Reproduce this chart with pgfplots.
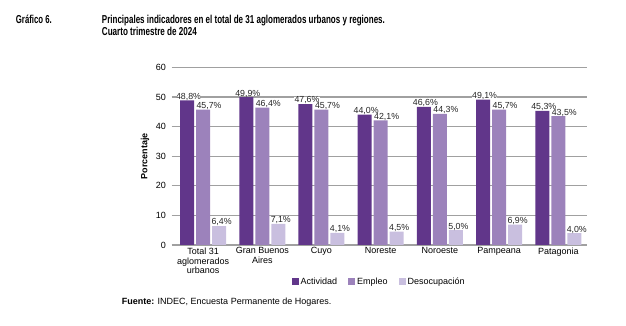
\documentclass[border=0pt]{standalone}
\usepackage{fontspec}
\setmainfont{Liberation Sans}
\usepackage{graphicx}
\usepackage{pgfplots}
\pgfplotsset{compat=1.18}
\definecolor{cAct}{HTML}{61368A}
\definecolor{cEmp}{HTML}{9C82BB}
\definecolor{cDes}{HTML}{C9BFDF}
\definecolor{cGrid}{HTML}{A0A0A0}
\begin{document}
\begin{tikzpicture}[x=1pt,y=1pt]
\path (0,0) rectangle (626,326);
\node[anchor=base west,inner sep=0pt,font=\fontsize{11.5}{13}\selectfont\bfseries] at (15.7,302.7) {\resizebox{36pt}{\height}{Gráfico 6.}};
\node[anchor=base west,inner sep=0pt,font=\fontsize{11.5}{13}\selectfont\bfseries] at (101.7,302.7) {\resizebox{283pt}{\height}{Principales indicadores en el total de 31 aglomerados urbanos y regiones.}};
\node[anchor=base west,inner sep=0pt,font=\fontsize{11.5}{13}\selectfont\bfseries] at (101.7,290) {\resizebox{95pt}{\height}{Cuarto trimestre de 2024}};
\node[anchor=base west,inner sep=0pt,font=\fontsize{9}{10}\selectfont] at (121.7,21) {\textbf{Fuente:} INDEC, Encuesta Permanente de Hogares.};
\begin{axis}[
  at={(171.7pt,81pt)}, anchor=south west,
  scale only axis, width=415pt, height=177.7pt,
  ybar=2pt, bar width=14pt,
  xmin=-0.53, xmax=6.48, ymin=0, ymax=60,
  ytick={0,10,...,60},
  xtick={0,...,6},
  xticklabels={{Total 31\\aglomerados\\urbanos},{Gran Buenos\\Aires},Cuyo,Noreste,Noroeste,Pampeana,Patagonia},
  /pgf/number format/assume math mode=true,
  axis line style={draw=none},
  major tick length=0pt,
  ymajorgrids, grid style={cGrid, line width=1.3pt},
  tick label style={font=\fontsize{9}{9.8}\selectfont},
  yticklabel style={inner sep=0pt, xshift=-5.5pt},
  xticklabel style={anchor=north, inner sep=0pt, yshift=-2.5pt, align=center},
  ylabel={Porcentaje},
  ylabel style={at={(axis description cs:-0.064,0.5)}, anchor=center, font=\fontsize{9}{10}\selectfont\bfseries},
  nodes near coords={\pgfmathprintnumber[fixed,fixed zerofill,precision=1,use comma]{\pgfplotspointmeta}\%},
  every node near coord/.append style={font=\fontsize{8.8}{10}\selectfont, fill=white, inner sep=0.3pt, text height=6pt, text depth=0pt, anchor=south, yshift=0.6pt, text=black!85},
  legend style={at={(axis description cs:0.5,-0.208)}, anchor=center, draw=none, legend columns=3, font=\fontsize{9}{10}\selectfont, /tikz/every even column/.append style={column sep=9pt}},
  legend image code/.code={\fill[#1] (0pt,-3.5pt) rectangle (7pt,3.5pt);},
]
\addplot[fill=cAct, draw=none, every node near coord/.append style={xshift=1.5pt}] coordinates {(0,48.8) (1,49.9) (2,47.6) (3,44.0) (4,46.6) (5,49.1) (6,45.3)};
\addplot[fill=cEmp, draw=none, every node near coord/.append style={xshift=6pt}] coordinates {(0,45.7) (1,46.4) (2,45.7) (3,42.1) (4,44.3) (5,45.7) (6,43.5)};
\addplot[fill=cDes, draw=none, every node near coord/.append style={xshift=2.5pt}] coordinates {(0,6.4) (1,7.1) (2,4.1) (3,4.5) (4,5.0) (5,6.9) (6,4.0)};
\legend{Actividad,Empleo,Desocupación}
\end{axis}
\end{tikzpicture}
\end{document}
